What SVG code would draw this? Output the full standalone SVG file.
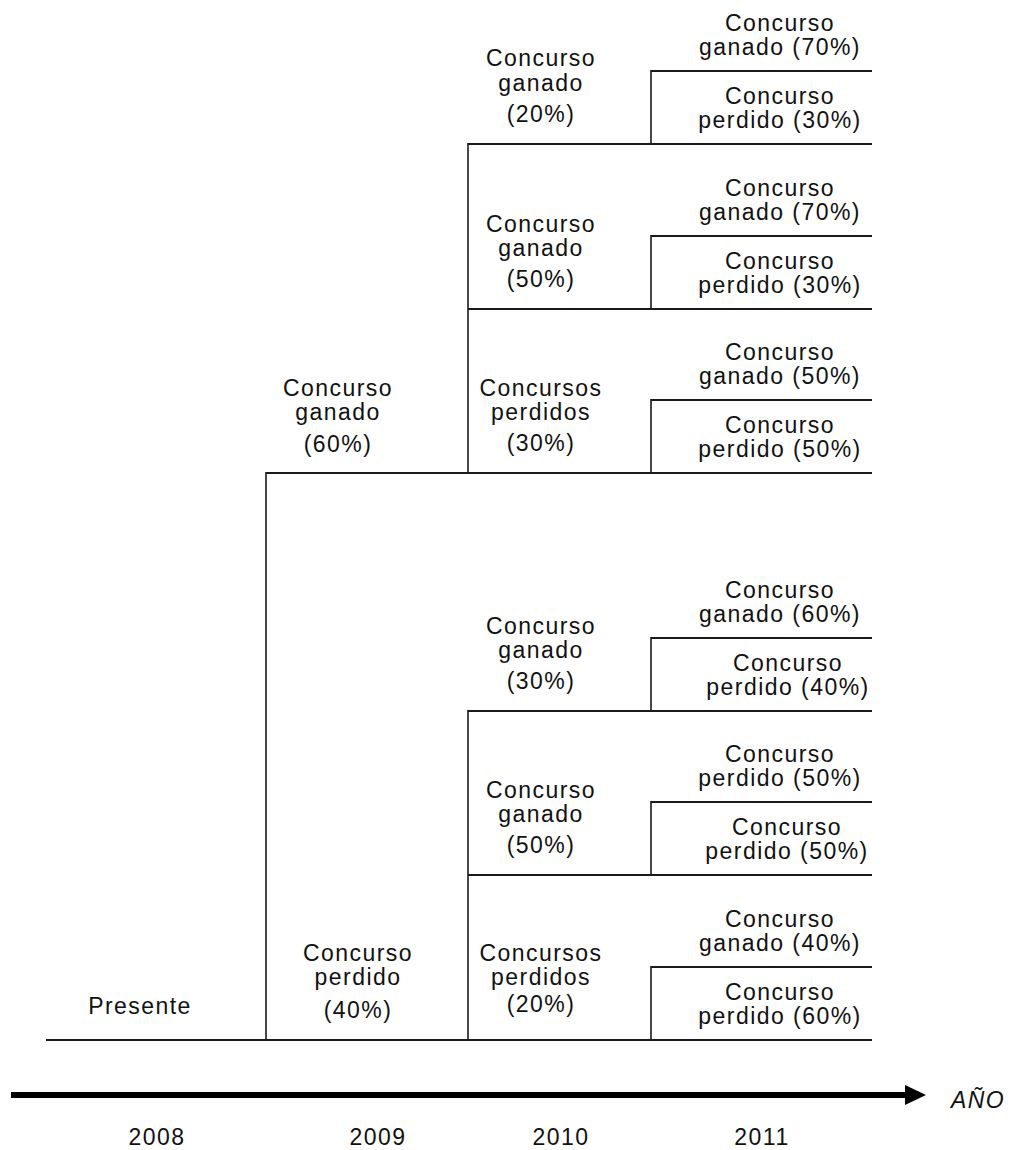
<svg xmlns="http://www.w3.org/2000/svg" width="1011" height="1150" viewBox="0 0 1011 1150">
<style>
text{font-family:"Liberation Sans",Arial,sans-serif;font-size:23px;fill:#111;text-anchor:middle;letter-spacing:1.45px}
.h{stroke:#1a1a1a;stroke-width:2;fill:none}
.v{stroke:#1a1a1a;stroke-width:1.6;fill:none}
.it{font-style:italic;text-anchor:start}
</style>
<rect width="1011" height="1150" fill="#fff"/>
<g id="connectors">
<line class="h" x1="651" y1="71" x2="872" y2="71"/>
<line class="h" x1="468" y1="144" x2="872" y2="144"/>
<line class="h" x1="651" y1="236" x2="872" y2="236"/>
<line class="h" x1="468" y1="309" x2="872" y2="309"/>
<line class="h" x1="651" y1="400" x2="872" y2="400"/>
<line class="h" x1="266" y1="473" x2="872" y2="473"/>
<line class="h" x1="651" y1="638" x2="872" y2="638"/>
<line class="h" x1="468" y1="711" x2="872" y2="711"/>
<line class="h" x1="651" y1="802" x2="872" y2="802"/>
<line class="h" x1="468" y1="875" x2="872" y2="875"/>
<line class="h" x1="651" y1="967" x2="872" y2="967"/>
<line class="h" x1="46" y1="1040" x2="872" y2="1040"/>
<line class="v" x1="266" y1="472" x2="266" y2="1040"/>
<line class="v" x1="468" y1="143" x2="468" y2="473"/>
<line class="v" x1="468" y1="710" x2="468" y2="1040"/>
<line class="v" x1="651" y1="70" x2="651" y2="144"/>
<line class="v" x1="651" y1="235" x2="651" y2="309"/>
<line class="v" x1="651" y1="399" x2="651" y2="473"/>
<line class="v" x1="651" y1="637" x2="651" y2="711"/>
<line class="v" x1="651" y1="801" x2="651" y2="875"/>
<line class="v" x1="651" y1="966" x2="651" y2="1040"/>
</g>
<g id="axis">
<line x1="11" y1="1095" x2="908" y2="1095" stroke="#000" stroke-width="6"/>
<polygon points="905,1085 926,1095 905,1105" fill="#000"/>
<text class="it" x="951" y="1108">AÑO</text>
<text x="157" y="1145">2008</text>
<text x="378" y="1145">2009</text>
<text x="561" y="1145">2010</text>
<text x="762" y="1145">2011</text>
</g>
<g id="n-presente"><text x="140" y="1014">Presente</text></g>
<g id="n-2009-ganado"><text x="338" y="396">Concurso</text><text x="338" y="420">ganado</text><text x="338" y="452">(60%)</text></g>
<g id="n-2009-perdido"><text x="358" y="961">Concurso</text><text x="358" y="985">perdido</text><text x="358" y="1018">(40%)</text></g>
<g id="n-2010-a"><text x="541" y="66">Concurso</text><text x="541" y="91">ganado</text><text x="541" y="122">(20%)</text></g>
<g id="n-2010-b"><text x="541" y="232">Concurso</text><text x="541" y="256">ganado</text><text x="541" y="287">(50%)</text></g>
<g id="n-2010-c"><text x="541" y="396">Concursos</text><text x="541" y="420">perdidos</text><text x="541" y="451">(30%)</text></g>
<g id="n-2010-d"><text x="541" y="634">Concurso</text><text x="541" y="658">ganado</text><text x="541" y="689">(30%)</text></g>
<g id="n-2010-e"><text x="541" y="798">Concurso</text><text x="541" y="822">ganado</text><text x="541" y="853">(50%)</text></g>
<g id="n-2010-f"><text x="541" y="961">Concursos</text><text x="541" y="985">perdidos</text><text x="541" y="1012">(20%)</text></g>
<g id="n-2011-1"><text x="780" y="31">Concurso</text><text x="780" y="55">ganado (70%)</text></g>
<g id="n-2011-2"><text x="780" y="104">Concurso</text><text x="780" y="128">perdido (30%)</text></g>
<g id="n-2011-3"><text x="780" y="196">Concurso</text><text x="780" y="220">ganado (70%)</text></g>
<g id="n-2011-4"><text x="780" y="269">Concurso</text><text x="780" y="293">perdido (30%)</text></g>
<g id="n-2011-5"><text x="780" y="360">Concurso</text><text x="780" y="384">ganado (50%)</text></g>
<g id="n-2011-6"><text x="780" y="433">Concurso</text><text x="780" y="457">perdido (50%)</text></g>
<g id="n-2011-7"><text x="780" y="598">Concurso</text><text x="780" y="622">ganado (60%)</text></g>
<g id="n-2011-8"><text x="788" y="671">Concurso</text><text x="788" y="695">perdido (40%)</text></g>
<g id="n-2011-9"><text x="780" y="762">Concurso</text><text x="780" y="786">perdido (50%)</text></g>
<g id="n-2011-10"><text x="787" y="835">Concurso</text><text x="787" y="859">perdido (50%)</text></g>
<g id="n-2011-11"><text x="780" y="927">Concurso</text><text x="780" y="951">ganado (40%)</text></g>
<g id="n-2011-12"><text x="780" y="1000">Concurso</text><text x="780" y="1024">perdido (60%)</text></g>
</svg>
